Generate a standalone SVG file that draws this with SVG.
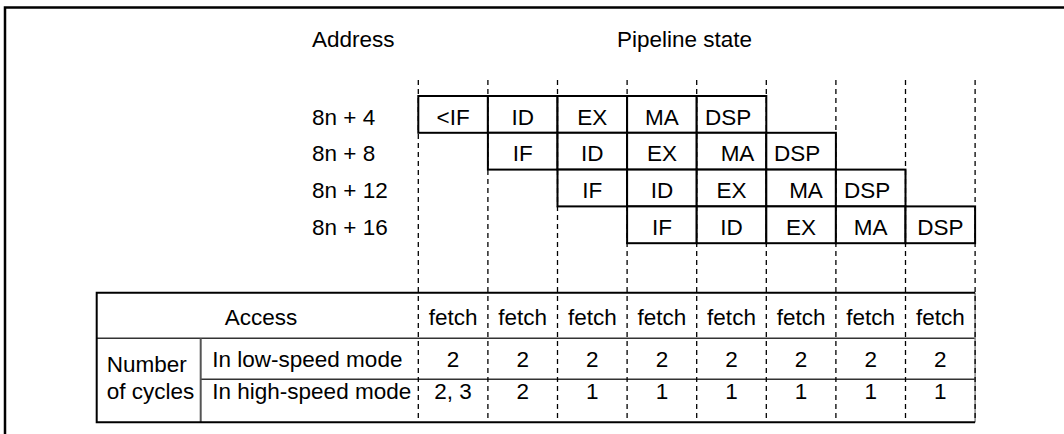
<svg xmlns="http://www.w3.org/2000/svg" width="1064" height="434" viewBox="0 0 1064 434">
<style>
text{font-family:"Liberation Sans",Arial,sans-serif;font-size:22.5px;fill:#000}
.c{text-anchor:middle}
.cell{fill:#fff;stroke:#000;stroke-width:2}
.dash{stroke:#000;stroke-width:1.3;stroke-dasharray:5,4;fill:none}
.tb{stroke:#000;stroke-width:2;fill:none}
.tl{stroke:#333;stroke-width:1.5;fill:none}
</style>
<rect width="1064" height="434" fill="#fff"/>
<path d="M5,434 V7.5 H1064" fill="none" stroke="#000" stroke-width="2.5"/>
<text x="312" y="46.5">Address</text>
<text x="617" y="47">Pipeline state</text>
<g id="labels">
<text x="312" y="124.5">8n + 4</text>
<text x="312" y="161.3">8n + 8</text>
<text x="312" y="198">8n + 12</text>
<text x="312" y="235">8n + 16</text>
</g>
<g id="row1">
<rect class="cell" x="418.3" y="96" width="69.6" height="36.8"/>
<rect class="cell" x="487.9" y="96" width="69.6" height="36.8"/>
<rect class="cell" x="557.5" y="96" width="69.6" height="36.8"/>
<rect class="cell" x="627.1" y="96" width="69.6" height="36.8"/>
<rect class="cell" x="696.7" y="96" width="69.6" height="36.8"/>
<text class="c" x="453.1" y="124.5">&lt;IF</text>
<text class="c" x="522.7" y="124.5">ID</text>
<text class="c" x="592.3" y="124.5">EX</text>
<text class="c" x="661.9" y="124.5">MA</text>
<text x="705" y="124.5">DSP</text>
</g>
<g id="row2">
<rect class="cell" x="487.9" y="132.8" width="69.6" height="36.8"/>
<rect class="cell" x="557.5" y="132.8" width="69.6" height="36.8"/>
<rect class="cell" x="627.1" y="132.8" width="69.6" height="36.8"/>
<rect class="cell" x="696.7" y="132.8" width="69.6" height="36.8"/>
<rect class="cell" x="766.3" y="132.8" width="69.6" height="36.8"/>
<text class="c" x="522.7" y="161.3">IF</text>
<text class="c" x="592.3" y="161.3">ID</text>
<text class="c" x="661.9" y="161.3">EX</text>
<text class="c" x="737.5" y="161.3">MA</text>
<text x="774" y="161.3">DSP</text>
</g>
<g id="row3">
<rect class="cell" x="557.5" y="169.6" width="69.6" height="36.8"/>
<rect class="cell" x="627.1" y="169.6" width="69.6" height="36.8"/>
<rect class="cell" x="696.7" y="169.6" width="69.6" height="36.8"/>
<rect class="cell" x="766.3" y="169.6" width="69.6" height="36.8"/>
<rect class="cell" x="835.9" y="169.6" width="69.6" height="36.8"/>
<text class="c" x="592.3" y="198">IF</text>
<text class="c" x="661.9" y="198">ID</text>
<text class="c" x="731.5" y="198">EX</text>
<text class="c" x="806" y="198">MA</text>
<text x="844" y="198">DSP</text>
</g>
<g id="row4">
<rect class="cell" x="627.1" y="206.4" width="69.6" height="36.8"/>
<rect class="cell" x="696.7" y="206.4" width="69.6" height="36.8"/>
<rect class="cell" x="766.3" y="206.4" width="69.6" height="36.8"/>
<rect class="cell" x="835.9" y="206.4" width="69.6" height="36.8"/>
<rect class="cell" x="905.5" y="206.4" width="69.6" height="36.8"/>
<text class="c" x="661.9" y="235">IF</text>
<text class="c" x="731.5" y="235">ID</text>
<text class="c" x="801.1" y="235">EX</text>
<text class="c" x="870.7" y="235">MA</text>
<text class="c" x="940.3" y="235">DSP</text>
</g>
<g id="table">
<path class="tl" d="M96.7,338.3 H975.1 M200.7,379.3 H975.1"/>
<path d="M200.7,338.3 V422.3" stroke="#555" stroke-width="2" fill="none"/>
<path d="M975.1,292.7 V422.3" stroke="#888" stroke-width="1.5" fill="none"/>
<path class="tb" d="M975.1,292.7 H96.7 V422.3 H975.1"/>
<text class="c" x="261" y="325">Access</text>
<text x="106.7" y="372">Number</text>
<text x="106.7" y="399">of cycles</text>
<text x="212.3" y="367">In low-speed mode</text>
<text x="212.3" y="398.5">In high-speed mode</text>
<g>
<text class="c" x="453.1" y="325">fetch</text>
<text class="c" x="522.7" y="325">fetch</text>
<text class="c" x="592.3" y="325">fetch</text>
<text class="c" x="661.9" y="325">fetch</text>
<text class="c" x="731.5" y="325">fetch</text>
<text class="c" x="801.1" y="325">fetch</text>
<text class="c" x="870.7" y="325">fetch</text>
<text class="c" x="940.3" y="325">fetch</text>
<text class="c" x="453.1" y="367">2</text>
<text class="c" x="522.7" y="367">2</text>
<text class="c" x="592.3" y="367">2</text>
<text class="c" x="661.9" y="367">2</text>
<text class="c" x="731.5" y="367">2</text>
<text class="c" x="801.1" y="367">2</text>
<text class="c" x="870.7" y="367">2</text>
<text class="c" x="940.3" y="367">2</text>
<text class="c" x="453.1" y="398.5">2, 3</text>
<text class="c" x="522.7" y="398.5">2</text>
<text class="c" x="592.3" y="398.5">1</text>
<text class="c" x="661.9" y="398.5">1</text>
<text class="c" x="731.5" y="398.5">1</text>
<text class="c" x="801.1" y="398.5">1</text>
<text class="c" x="870.7" y="398.5">1</text>
<text class="c" x="940.3" y="398.5">1</text>
</g>
</g>
<g id="connectors">
<path class="dash" d="M418.3,80 V422 M487.9,80 V422 M557.5,80 V422 M627.1,80 V422 M696.7,80 V422 M766.3,80 V422 M835.9,80 V422 M905.5,80 V422 M975.1,80 V422"/>
</g>
</svg>
